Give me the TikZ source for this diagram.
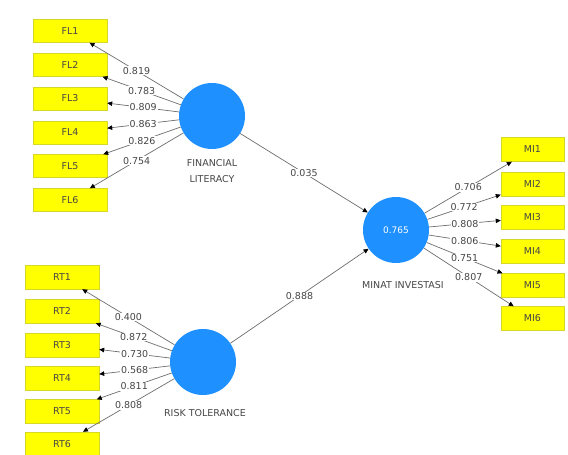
\documentclass[tikz,border=0pt]{standalone}
\usepackage{fontspec}
\setmainfont{DejaVu Sans}
\usetikzlibrary{arrows.meta}
\definecolor{lv}{RGB}{30,144,255}
\definecolor{ind}{RGB}{255,255,0}
\definecolor{indedge}{RGB}{215,215,40}
\definecolor{txt}{RGB}{70,70,70}
\definecolor{ln}{RGB}{110,110,110}
\tikzset{
  latent/.style={circle,fill=lv,draw=none,minimum size=66pt,inner sep=0pt,text=white,font=\fontsize{9}{10}\selectfont},
  indbox/.style={rectangle,fill=ind,draw=indedge,line width=0.4pt,minimum height=23pt,inner sep=0pt,text=txt,font=\fontsize{9.5}{10}\selectfont},
  flbox/.style={indbox,minimum width=74pt},
  mibox/.style={indbox,minimum width=63pt},
  lvlabel/.style={text=txt,align=center,font=\fontsize{9.5}{16}\selectfont},
  load/.style={draw=ln,line width=0.7pt,-{Triangle[length=5pt,width=4.5pt,color=black]}},
  lbl/.style={fill=white,inner sep=0.8pt,text=txt,font=\fontsize{9.5}{10}\selectfont}
}
\begin{document}
\begin{tikzpicture}[x=1pt,y=-1pt]
\useasboundingbox[fill=white] (0,0) rectangle (568,455);
% latent variables
\node[latent] (fl) at (212,116) {};
\node[latent] (rt) at (203,362) {};
\node[latent] (mi) at (396,230) {0.765};
\node[lvlabel] (fllab) at (212,171) {FINANCIAL\\LITERACY};
\node[lvlabel] (rtlab) at (205,413) {RISK TOLERANCE};
\node[lvlabel] (milab) at (403,285) {MINAT INVESTASI};
% FL indicators
\node[flbox] (fl1) at (70,31) {FL1};
\node[flbox] (fl2) at (70,65) {FL2};
\node[flbox] (fl3) at (70,98.5) {FL3};
\node[flbox] (fl4) at (70,132.5) {FL4};
\node[flbox] (fl5) at (70,166) {FL5};
\node[flbox] (fl6) at (70,200) {FL6};
% RT indicators
\node[flbox,minimum height=24pt] (rt1) at (62,277) {RT1};
\node[flbox,minimum height=24pt] (rt2) at (62,311) {RT2};
\node[flbox,minimum height=24pt] (rt3) at (62,345) {RT3};
\node[flbox,minimum height=24pt] (rt4) at (62,378.5) {RT4};
\node[flbox,minimum height=24pt] (rt5) at (62,411.5) {RT5};
\node[flbox,minimum height=24pt] (rt6) at (62,444) {RT6};
% MI indicators
\node[mibox,minimum height=24pt] (mi1) at (532.5,149.5) {MI1};
\node[mibox,minimum height=24pt] (mi2) at (532.5,184) {MI2};
\node[mibox,minimum height=24pt] (mi3) at (532.5,217.5) {MI3};
\node[mibox,minimum height=24pt] (mi4) at (532.5,251) {MI4};
\node[mibox,minimum height=24pt] (mi5) at (532.5,285.5) {MI5};
\node[mibox,minimum height=24pt] (mi6) at (532.5,318.5) {MI6};
% loadings FL
\draw[load] (fl) -- node[lbl]{0.819} (fl1);
\draw[load] (fl) -- node[lbl]{0.783} (fl2);
\draw[load] (fl) -- node[lbl]{0.809} (fl3);
\draw[load] (fl) -- node[lbl]{0.863} (fl4);
\draw[load] (fl) -- node[lbl]{0.826} (fl5);
\draw[load] (fl) -- node[lbl]{0.754} (fl6);
% loadings RT
\draw[load] (rt) -- node[lbl]{0.400} (rt1);
\draw[load] (rt) -- node[lbl]{0.872} (rt2);
\draw[load] (rt) -- node[lbl]{0.730} (rt3);
\draw[load] (rt) -- node[lbl]{0.568} (rt4);
\draw[load] (rt) -- node[lbl]{0.811} (rt5);
\draw[load] (rt) -- node[lbl]{0.808} (rt6);
% loadings MI
\draw[load] (mi) -- node[lbl]{0.706} (mi1);
\draw[load] (mi) -- node[lbl]{0.772} (mi2);
\draw[load] (mi) -- node[lbl]{0.808} (mi3);
\draw[load] (mi) -- node[lbl]{0.806} (mi4);
\draw[load] (mi) -- node[lbl]{0.751} (mi5);
\draw[load] (mi) -- node[lbl]{0.807} (mi6);
% path coefficients
\draw[load] (fl) -- node[lbl]{0.035} (mi);
\draw[load] (rt) -- node[lbl]{0.888} (mi);
\end{tikzpicture}
\end{document}
